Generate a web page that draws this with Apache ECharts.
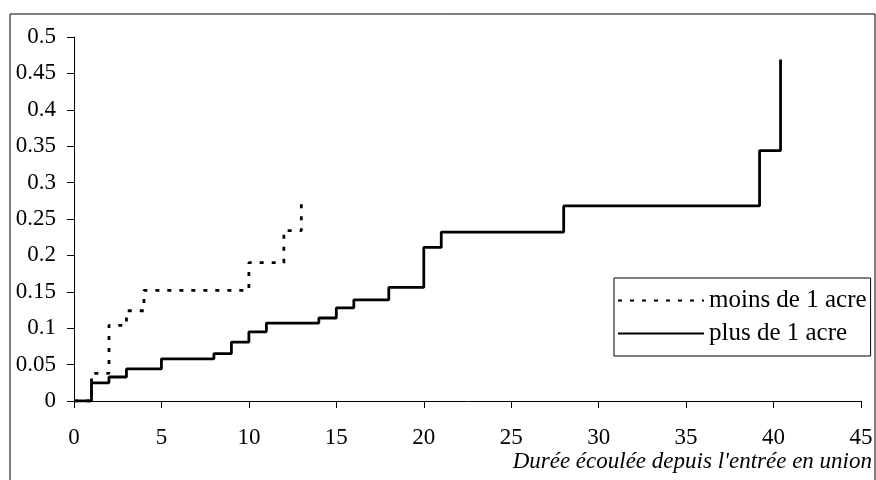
<!DOCTYPE html>
<html>
<head>
<meta charset="utf-8">
<script src="https://cdn.jsdelivr.net/npm/echarts@6/dist/echarts.min.js"></script>
<style>
  html, body { margin: 0; padding: 0; background: #fff; }
  #main { width: 876px; height: 480px; }
</style>
</head>
<body>
<div id="main"></div>
<script>
// durées (années) et valeurs cumulées
var dureeMoins = [0, 1, 2, 3, 4, 10, 12, 13]
var valMoins = [0, 0.038, 0.104, 0.124, 0.152, 0.19, 0.234, 0.272]
var dureePlus = [0, 1, 2, 3, 5, 8, 9, 10, 11, 14, 15, 16, 18, 20, 21, 28, 39.2, 40.4]
var valPlus = [0, 0.025, 0.033, 0.044, 0.058, 0.065, 0.081, 0.095, 0.107, 0.114, 0.128, 0.139, 0.156, 0.211, 0.232, 0.268, 0.344, 0.469]
var nomsSeries = ['moins de 1 acre', 'plus de 1 acre']
var titreX = "Durée écoulée depuis l'entrée en union"

function paires(xs, ys) {
  return xs.map(function (x, i) { return [x, ys[i]] })
}

var chart = echarts.init(document.getElementById('main'), null, { renderer: 'canvas' })
var police = 'Liberation Serif'

var option = {
  animation: false,
  backgroundColor: '#fff',
  textStyle: { fontFamily: police, color: '#000' },
  grid: { left: 74, right: 15, top: 37, bottom: 79 },
  title: {
    text: titreX,
    right: 4,
    top: 450,
    padding: 0,
    textStyle: { fontFamily: police, fontStyle: 'italic', fontWeight: 'normal', fontSize: 23, color: '#000' }
  },
  legend: {
    orient: 'vertical',
    left: 614,
    top: 278,
    padding: [10, 4, 10, 3],
    itemGap: 8,
    itemWidth: 86,
    itemHeight: 14,
    borderColor: '#000',
    borderWidth: 1,
    backgroundColor: '#fff',
    itemStyle: { opacity: 0 },   // pas de symbole rond dans la légende
    data: nomsSeries,
    textStyle: { fontFamily: police, fontSize: 25, color: '#000' }
  },
  xAxis: {
    type: 'value',
    min: 0,
    max: 45,
    interval: 5,
    splitLine: { show: false },
    axisLine: { lineStyle: { color: '#000', width: 1 } },
    axisTick: { length: 7, lineStyle: { color: '#000' } },
    axisLabel: { margin: 25, fontFamily: police, fontSize: 23, color: '#000' }
  },
  yAxis: {
    type: 'value',
    min: 0,
    max: 0.5,
    interval: 0.05,
    splitLine: { show: false },
    axisLine: { show: true, lineStyle: { color: '#000', width: 1 } },
    axisTick: { show: true, length: 7, lineStyle: { color: '#000' } },
    axisLabel: { margin: 18, fontFamily: police, fontSize: 23, color: '#000' }
  },
  series: [
    {
      name: nomsSeries[0],
      type: 'line',
      step: 'end',
      symbol: 'none',
      data: paires(dureeMoins, valMoins),
      lineStyle: { color: '#000', width: 2.8, type: [4, 8] },
      itemStyle: { color: '#000' },
      z: 3
    },
    {
      name: nomsSeries[1],
      type: 'line',
      step: 'end',
      symbol: 'none',
      data: paires(dureePlus, valPlus),
      lineStyle: { color: '#000', width: 2.8 },
      itemStyle: { color: '#000' },
      z: 2
    }
  ],
  // cadre autour du graphique
  graphic: [
    {
      type: 'rect',
      z: -1,
      shape: { x: 10, y: 14, width: 865, height: 472 },
      style: { fill: null, stroke: '#000', lineWidth: 1 }
    }
  ]
}

chart.setOption(option)
</script>
</body>
</html>
